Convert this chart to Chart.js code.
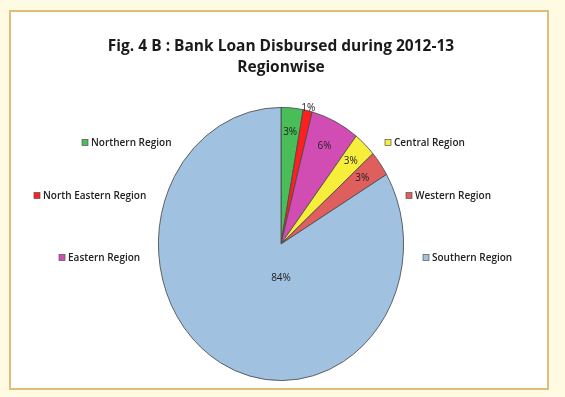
<!DOCTYPE html>
<html>
<head>
<meta charset="utf-8">
<script src="https://cdn.jsdelivr.net/npm/chart.js@4"></script>
<style>
  html, body { margin: 0; padding: 0; background: #fffbe3; }
  #frame {
    position: absolute; left: 9px; top: 10px; width: 536px; height: 376px;
    background: #ffffff; border: 2px solid #e2bd78;
  }
  #wrap { position: absolute; left: 0; top: 0; width: 565px; height: 397px; }
</style>
</head>
<body>
<div id="frame"></div>
<div id="wrap"><canvas id="pieChart" width="565" height="397"></canvas></div>
<script>
const regions = ['Northern Region', 'North Eastern Region', 'Eastern Region', 'Central Region', 'Western Region', 'Southern Region'];
const shares = [2.9, 1.2, 6.4, 3.0, 3.0, 83.5];
const colours = ['#48bd58', '#ff1f1f', '#d24db3', '#f7ee3c', '#df5e5e', '#a0c2e0'];

// where Excel put the legend entries around the pie (square left edge, middle y)
const legendSpots = [[82, 143], [34, 196], [59, 258], [385, 143], [406, 196], [423, 258]];
// label distance as a fraction of the radius
const labelDist = [0.82, 1.02, 0.8, 0.83, 0.82, 0.25];

const yStretch = 1.114;

const ellipsePlugin = {
    id: 'ellipse',
    beforeDatasetsDraw(chart) {
        const arc = chart.getDatasetMeta(0).data[0];
        const ctx = chart.ctx;
        ctx.save();
        ctx.translate(0, arc.y);
        ctx.scale(1, yStretch);
        ctx.translate(0, -arc.y);
    },
    afterDatasetsDraw(chart) {
        const ctx = chart.ctx;
        ctx.restore();

        const meta = chart.getDatasetMeta(0);
        ctx.save();
        ctx.font = '10px "Open Sans"';
        ctx.fillStyle = '#222';
        ctx.textAlign = 'center';
        ctx.textBaseline = 'middle';
        meta.data.forEach((a, i) => {
            // the big slice has its label right under the centre
            const mid = i === 5 ? Math.PI / 2 : (a.startAngle + a.endAngle) / 2;
            const r = a.outerRadius * labelDist[i];
            const x = a.x + Math.cos(mid) * r;
            const y = a.y + Math.sin(mid) * r * yStretch;
            ctx.fillText(Math.round(shares[i]) + '%', x, y);
        });

        ctx.textAlign = 'left';
        ctx.font = '600 10px "Open Sans"';
        regions.forEach((name, i) => {
            const [x, y] = legendSpots[i];
            ctx.fillStyle = colours[i];
            ctx.fillRect(x, y - 3.5, 6, 6);
            ctx.strokeStyle = '#555';
            ctx.lineWidth = 0.7;
            ctx.strokeRect(x, y - 3.5, 6, 6);
            ctx.fillStyle = '#222';
            ctx.fillText(name, x + 9, y);
        });
        ctx.restore();
    }
};

const ctx1 = document.getElementById('pieChart').getContext('2d');
const pieChart = new Chart(ctx1, {
    type: 'pie',
    data: {
        labels: regions,
        datasets: [{
            data: shares,
            backgroundColor: colours,
            borderColor: '#4a4a4a',
            borderWidth: 0.8,
        }],
    },
    options: {
        responsive: false,
        animation: false,
        layout: {
            padding: { left: 20, right: 23, top: 0, bottom: 30 }
        },
        plugins: {
            legend: { display: false },
            tooltip: { enabled: false },
            title: {
                display: true,
                text: ['Fig. 4 B : Bank Loan Disbursed during 2012-13', 'Regionwise'],
                color: '#1a1a1a',
                font: { family: 'Open Sans', size: 15.5, weight: 'bold', lineHeight: 1.355 },
                padding: { top: 36, bottom: 43 }
            }
        }
    },
    plugins: [ellipsePlugin]
});
</script>
</body>
</html>
